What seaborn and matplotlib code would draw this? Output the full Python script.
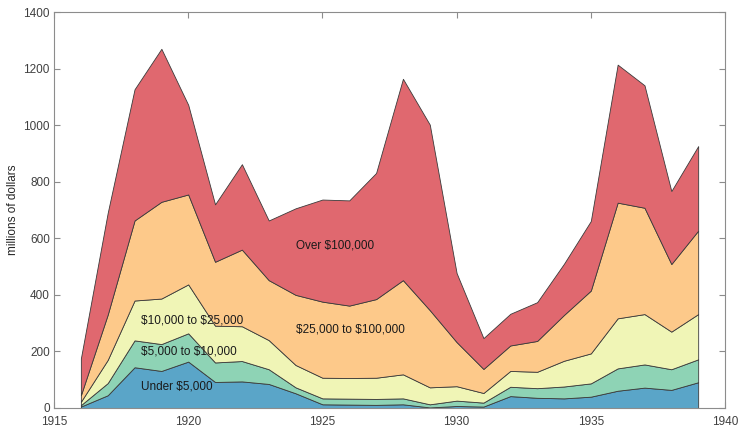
import matplotlib
matplotlib.use("Agg")
import matplotlib.pyplot as plt
import seaborn as sns
import numpy as np

years = list(range(1916, 1940))
under_5k = [5, 45, 144, 131, 164, 92, 94, 85, 52, 13, 12, 11, 13, 2, 7, 5, 42, 36, 34, 40, 61, 72, 64, 91]
k5_10 = [5, 43, 95, 95, 100, 69, 72, 52, 21, 21, 21, 21, 21, 11, 19, 14, 33, 34, 42, 47, 79, 82, 73, 81]
k10_25 = [12, 82, 141, 161, 173, 130, 123, 103, 79, 73, 73, 75, 85, 60, 51, 34, 56, 58, 91, 106, 177, 178, 133, 160]
k25_100 = [23, 160, 283, 342, 318, 226, 271, 212, 248, 269, 256, 278, 333, 273, 156, 85, 90, 109, 162, 222, 409, 376, 239, 295]
over_100k = [130, 360, 464, 541, 317, 203, 302, 211, 306, 361, 372, 446, 712, 656, 244, 109, 112, 137, 181, 246, 488, 433, 258, 299]
series_labels = ["Under $5,000", "$5,000 to $10,000", "$10,000 to $25,000", "$25,000 to $100,000", "Over $100,000"]
label_pos = [(1918.25, 75), (1918.25, 198), (1918.25, 311), (1924.0, 276), (1924.0, 576)]
x_ticks = [1915, 1920, 1925, 1930, 1935, 1940]
y_ticks = [0, 200, 400, 600, 800, 1000, 1200, 1400]

sns.set_style("white")
plt.rcParams['font.family'] = ['Arial', 'Liberation Sans', 'DejaVu Sans']

colors = sns.color_palette(["#5aa5c8", "#8ed3b5", "#f0f5b6", "#fdc98a", "#e0686f"])

fig = plt.figure(figsize=(7.38, 4.30), dpi=100)
ax = fig.add_axes([0.0732, 0.0512, 0.9092, 0.9208])

ax.stackplot(years, under_5k, k5_10, k10_25, k25_100, over_100k,
             colors=colors, edgecolor="#3a3a3a", linewidth=0.6)

for lab, (x, y) in zip(series_labels, label_pos):
    ax.text(x, y, lab, fontsize=8.5, color="#1a1a1a", ha="left", va="center",
            parse_math=False)

ax.set_xlim(1915, 1940)
ax.set_ylim(0, 1400)
ax.set_xticks(x_ticks)
ax.set_yticks(y_ticks)
ax.set_ylabel("millions of dollars", fontsize=8.5, color="#262626", labelpad=3)
ax.tick_params(direction="in", length=4, width=0.8, color="#8c8c8c",
               labelsize=8.5, labelcolor="#404040", top=True, right=True,
               bottom=True, left=True)
ax.tick_params(axis="x", pad=6)
ax.tick_params(axis="y", pad=3)
for s in ax.spines.values():
    s.set_color("#8c8c8c")
    s.set_linewidth(0.8)

fig.savefig("out.png", dpi=100)
